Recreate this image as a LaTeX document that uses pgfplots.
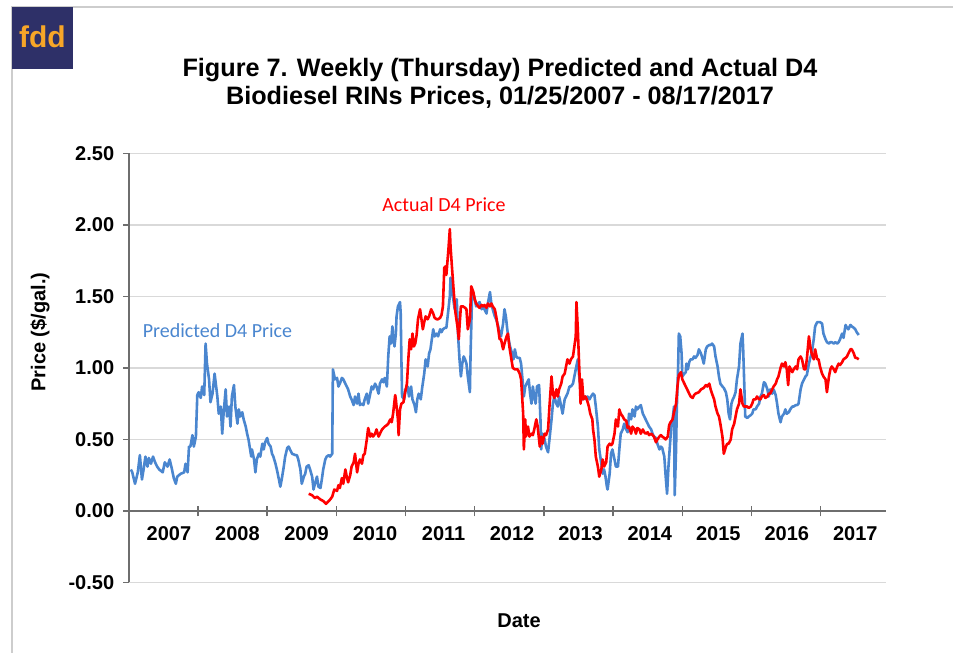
\documentclass[border=0pt]{standalone}
\usepackage{fontspec}
\setmainfont{Liberation Sans}
\newfontfamily\calibri{Carlito}
\usepackage{pgfplots}
\pgfplotsset{compat=1.18}
\definecolor{predblue}{RGB}{74,134,207}
\definecolor{actred}{RGB}{255,0,0}
\definecolor{gridgray}{RGB}{217,217,217}
\definecolor{axisgray}{RGB}{110,110,110}
\definecolor{logonavy}{RGB}{46,48,104}
\definecolor{logoorange}{RGB}{247,166,40}
\definecolor{framegray}{RGB}{205,205,205}

\pgfplotstableread{
x y
2007.03 0.29
2007.05 0.27
2007.09 0.19
2007.13 0.27
2007.16 0.39
2007.19 0.22
2007.22 0.31
2007.24 0.38
2007.27 0.31
2007.29 0.37
2007.32 0.33
2007.35 0.38
2007.38 0.34
2007.41 0.31
2007.44 0.29
2007.49 0.27
2007.52 0.34
2007.56 0.31
2007.59 0.36
2007.62 0.30
2007.65 0.23
2007.68 0.19
2007.70 0.24
2007.75 0.26
2007.80 0.27
2007.82 0.33
2007.85 0.27
2007.87 0.45
2007.89 0.45
2007.92 0.53
2007.94 0.45
2007.97 0.52
2007.99 0.81
2008.01 0.83
2008.04 0.79
2008.06 0.87
2008.09 0.81
2008.11 1.17
2008.13 1.03
2008.16 0.92
2008.18 0.76
2008.21 0.82
2008.24 0.96
2008.28 0.80
2008.30 0.68
2008.33 0.73
2008.35 0.54
2008.37 0.68
2008.40 0.85
2008.42 0.66
2008.45 0.73
2008.47 0.59
2008.49 0.80
2008.52 0.88
2008.54 0.73
2008.57 0.61
2008.59 0.71
2008.61 0.66
2008.64 0.69
2008.66 0.64
2008.69 0.59
2008.71 0.54
2008.73 0.50
2008.77 0.38
2008.78 0.43
2008.81 0.36
2008.83 0.27
2008.85 0.36
2008.88 0.40
2008.90 0.38
2008.93 0.47
2008.95 0.43
2008.97 0.48
2009.00 0.51
2009.02 0.47
2009.05 0.45
2009.07 0.40
2009.09 0.38
2009.12 0.33
2009.14 0.29
2009.17 0.22
2009.19 0.17
2009.21 0.22
2009.24 0.31
2009.26 0.38
2009.29 0.44
2009.31 0.45
2009.33 0.43
2009.36 0.40
2009.41 0.39
2009.43 0.39
2009.45 0.36
2009.48 0.29
2009.50 0.19
2009.53 0.24
2009.55 0.26
2009.57 0.31
2009.60 0.32
2009.62 0.29
2009.65 0.24
2009.67 0.15
2009.69 0.19
2009.72 0.24
2009.74 0.17
2009.77 0.16
2009.79 0.22
2009.81 0.29
2009.84 0.36
2009.86 0.38
2009.89 0.39
2009.91 0.38
2009.94 0.40
2009.95 0.99
2009.98 0.92
2010.01 0.93
2010.03 0.87
2010.05 0.89
2010.08 0.93
2010.10 0.92
2010.13 0.89
2010.15 0.87
2010.17 0.85
2010.20 0.80
2010.22 0.78
2010.25 0.74
2010.27 0.80
2010.30 0.75
2010.32 0.82
2010.34 0.74
2010.37 0.75
2010.39 0.74
2010.41 0.78
2010.44 0.82
2010.46 0.75
2010.49 0.82
2010.51 0.87
2010.53 0.85
2010.56 0.89
2010.58 0.87
2010.61 0.82
2010.63 0.89
2010.66 0.92
2010.68 0.90
2010.70 0.93
2010.73 0.87
2010.75 1.08
2010.77 1.22
2010.79 1.17
2010.81 1.29
2010.82 1.22
2010.84 1.15
2010.86 1.24
2010.87 1.36
2010.89 1.43
2010.92 1.46
2010.93 1.38
2010.94 1.06
2010.95 0.80
2010.98 0.78
2011.00 0.85
2011.03 0.87
2011.05 0.80
2011.08 0.87
2011.10 0.78
2011.13 0.74
2011.15 0.69
2011.17 0.78
2011.19 0.82
2011.22 0.78
2011.24 0.86
2011.27 0.96
2011.29 1.06
2011.32 1.01
2011.34 1.10
2011.36 1.13
2011.38 1.20
2011.40 1.27
2011.42 1.22
2011.45 1.24
2011.47 1.22
2011.50 1.27
2011.52 1.25
2011.54 1.27
2011.57 1.28
2011.59 1.28
2011.62 1.41
2011.64 1.50
2011.65 1.63
2011.67 1.55
2011.69 1.48
2011.71 1.41
2011.74 1.48
2011.76 1.22
2011.78 1.06
2011.80 0.94
2011.82 1.03
2011.84 1.08
2011.86 1.06
2011.88 1.03
2011.90 0.94
2011.93 0.83
2011.94 1.10
2011.96 1.48
2011.98 1.52
2012.00 1.48
2012.02 1.43
2012.05 1.45
2012.07 1.46
2012.10 1.41
2012.12 1.43
2012.14 1.41
2012.17 1.38
2012.19 1.45
2012.22 1.53
2012.24 1.45
2012.26 1.41
2012.29 1.36
2012.31 1.34
2012.34 1.29
2012.36 1.24
2012.38 1.22
2012.41 1.31
2012.43 1.41
2012.45 1.36
2012.47 1.27
2012.49 1.20
2012.51 1.15
2012.54 1.10
2012.56 1.06
2012.58 1.13
2012.60 1.08
2012.62 1.07
2012.65 1.07
2012.67 1.03
2012.69 0.92
2012.71 0.80
2012.73 0.87
2012.75 0.89
2012.78 0.92
2012.80 0.82
2012.82 0.75
2012.84 0.87
2012.86 0.80
2012.88 0.75
2012.90 0.87
2012.93 0.88
2012.95 0.64
2012.96 0.43
2012.98 0.54
2013.01 0.50
2013.03 0.45
2013.06 0.41
2013.08 0.50
2013.11 0.64
2013.13 0.75
2013.15 0.80
2013.18 0.75
2013.20 0.73
2013.22 0.80
2013.25 0.73
2013.27 0.68
2013.30 0.78
2013.32 0.80
2013.34 0.82
2013.37 0.87
2013.39 0.87
2013.42 0.89
2013.44 0.94
2013.46 0.99
2013.49 1.06
2013.51 0.94
2013.54 0.82
2013.56 0.78
2013.59 0.80
2013.61 0.78
2013.63 0.80
2013.66 0.78
2013.68 0.80
2013.71 0.82
2013.73 0.81
2013.75 0.73
2013.78 0.59
2013.80 0.43
2013.83 0.33
2013.85 0.26
2013.87 0.29
2013.89 0.24
2013.91 0.17
2013.92 0.15
2013.95 0.26
2013.97 0.40
2013.99 0.43
2014.02 0.36
2014.04 0.31
2014.07 0.31
2014.09 0.43
2014.11 0.54
2014.14 0.57
2014.16 0.61
2014.19 0.57
2014.21 0.55
2014.23 0.68
2014.26 0.64
2014.28 0.71
2014.31 0.66
2014.33 0.73
2014.35 0.71
2014.38 0.73
2014.40 0.74
2014.43 0.68
2014.45 0.66
2014.47 0.64
2014.50 0.61
2014.52 0.59
2014.55 0.57
2014.57 0.54
2014.59 0.52
2014.62 0.51
2014.64 0.47
2014.67 0.43
2014.69 0.45
2014.71 0.44
2014.74 0.38
2014.76 0.24
2014.78 0.12
2014.80 0.31
2014.82 0.45
2014.84 0.59
2014.86 0.64
2014.88 0.73
2014.89 0.11
2014.91 0.43
2014.92 0.71
2014.94 1.01
2014.95 1.24
2014.97 1.22
2014.99 1.10
2015.00 0.94
2015.03 0.96
2015.05 0.97
2015.06 1.03
2015.08 0.99
2015.10 1.04
2015.12 1.06
2015.15 1.06
2015.17 1.08
2015.19 1.07
2015.22 1.09
2015.24 1.13
2015.27 1.10
2015.29 1.07
2015.31 1.03
2015.34 1.13
2015.36 1.15
2015.39 1.16
2015.41 1.16
2015.43 1.17
2015.46 1.15
2015.48 1.08
2015.51 1.01
2015.53 0.94
2015.55 0.89
2015.58 0.87
2015.60 0.86
2015.63 0.83
2015.65 0.78
2015.67 0.68
2015.69 0.64
2015.71 0.75
2015.73 0.78
2015.75 0.80
2015.77 0.83
2015.79 0.92
2015.82 1.01
2015.84 1.17
2015.87 1.24
2015.88 1.13
2015.90 0.82
2015.91 0.66
2015.94 0.65
2015.96 0.66
2015.99 0.67
2016.01 0.68
2016.03 0.71
2016.06 0.71
2016.08 0.73
2016.11 0.75
2016.13 0.80
2016.15 0.82
2016.18 0.90
2016.20 0.89
2016.23 0.85
2016.25 0.80
2016.27 0.85
2016.30 0.82
2016.32 0.85
2016.35 0.81
2016.37 0.75
2016.39 0.68
2016.42 0.62
2016.44 0.66
2016.47 0.68
2016.49 0.71
2016.51 0.68
2016.54 0.69
2016.56 0.71
2016.59 0.73
2016.61 0.73
2016.64 0.74
2016.66 0.74
2016.68 0.75
2016.71 0.85
2016.73 0.89
2016.76 0.92
2016.78 0.94
2016.80 0.95
2016.83 1.03
2016.85 1.07
2016.87 1.10
2016.90 1.20
2016.92 1.29
2016.95 1.32
2016.97 1.32
2016.99 1.32
2017.02 1.31
2017.04 1.24
2017.07 1.20
2017.09 1.18
2017.12 1.17
2017.14 1.18
2017.16 1.18
2017.19 1.17
2017.21 1.18
2017.24 1.17
2017.26 1.18
2017.28 1.20
2017.31 1.24
2017.33 1.21
2017.36 1.30
2017.38 1.28
2017.40 1.27
2017.43 1.30
2017.45 1.29
2017.48 1.28
2017.50 1.27
2017.52 1.25
2017.55 1.23
}\predicted

\pgfplotstableread{
x y
2009.60 0.12
2009.65 0.11
2009.69 0.09
2009.72 0.10
2009.77 0.08
2009.81 0.07
2009.85 0.05
2009.89 0.07
2009.91 0.08
2009.94 0.10
2009.97 0.15
2010.01 0.14
2010.03 0.18
2010.05 0.16
2010.08 0.23
2010.10 0.19
2010.13 0.29
2010.15 0.24
2010.17 0.20
2010.20 0.25
2010.22 0.31
2010.25 0.34
2010.27 0.40
2010.30 0.27
2010.32 0.33
2010.34 0.36
2010.37 0.33
2010.39 0.39
2010.41 0.40
2010.44 0.50
2010.46 0.58
2010.49 0.52
2010.51 0.54
2010.53 0.52
2010.56 0.54
2010.58 0.57
2010.61 0.52
2010.63 0.54
2010.66 0.57
2010.68 0.58
2010.70 0.59
2010.73 0.60
2010.75 0.61
2010.78 0.64
2010.80 0.62
2010.82 0.68
2010.85 0.81
2010.86 0.78
2010.87 0.73
2010.89 0.64
2010.90 0.53
2010.92 0.71
2010.94 0.75
2010.97 0.76
2010.99 0.82
2011.02 0.89
2011.04 1.06
2011.06 1.20
2011.08 1.13
2011.10 1.24
2011.12 1.15
2011.14 1.17
2011.16 1.23
2011.18 1.34
2011.21 1.41
2011.23 1.34
2011.25 1.27
2011.27 1.32
2011.29 1.36
2011.32 1.34
2011.34 1.36
2011.37 1.41
2011.40 1.38
2011.42 1.35
2011.45 1.34
2011.47 1.34
2011.50 1.35
2011.52 1.37
2011.54 1.43
2011.56 1.70
2011.58 1.71
2011.59 1.65
2011.62 1.83
2011.64 1.97
2011.65 1.85
2011.67 1.71
2011.70 1.51
2011.72 1.39
2011.75 1.29
2011.77 1.20
2011.78 1.29
2011.80 1.43
2011.83 1.43
2011.86 1.42
2011.88 1.41
2011.90 1.27
2011.93 1.34
2011.95 1.57
2011.98 1.53
2012.00 1.48
2012.02 1.45
2012.05 1.43
2012.07 1.42
2012.10 1.44
2012.12 1.43
2012.14 1.44
2012.17 1.42
2012.19 1.45
2012.22 1.43
2012.24 1.45
2012.26 1.43
2012.29 1.41
2012.31 1.36
2012.34 1.27
2012.36 1.20
2012.38 1.20
2012.41 1.13
2012.43 1.17
2012.46 1.22
2012.48 1.24
2012.50 1.15
2012.53 1.06
2012.55 1.00
2012.58 0.99
2012.62 0.99
2012.65 0.96
2012.67 0.92
2012.70 0.68
2012.71 0.43
2012.73 0.64
2012.74 0.52
2012.77 0.59
2012.79 0.52
2012.82 0.54
2012.84 0.53
2012.86 0.57
2012.89 0.64
2012.91 0.59
2012.94 0.45
2012.96 0.52
2012.98 0.47
2013.01 0.54
2013.03 0.53
2013.06 0.57
2013.08 0.73
2013.11 0.94
2013.13 0.82
2013.15 0.79
2013.18 0.85
2013.20 0.80
2013.22 0.85
2013.25 0.89
2013.27 0.94
2013.30 0.96
2013.32 1.01
2013.34 1.06
2013.37 1.03
2013.39 1.06
2013.42 1.08
2013.44 1.15
2013.46 1.22
2013.47 1.46
2013.49 1.27
2013.51 1.01
2013.53 0.75
2013.55 0.92
2013.57 0.78
2013.60 0.80
2013.62 0.78
2013.65 0.73
2013.67 0.68
2013.70 0.64
2013.71 0.57
2013.73 0.50
2013.75 0.38
2013.78 0.31
2013.80 0.24
2013.83 0.29
2013.85 0.36
2013.87 0.31
2013.90 0.34
2013.92 0.45
2013.95 0.47
2013.97 0.46
2013.99 0.47
2014.02 0.54
2014.04 0.64
2014.07 0.59
2014.09 0.71
2014.11 0.68
2014.14 0.66
2014.16 0.64
2014.19 0.63
2014.21 0.58
2014.23 0.59
2014.26 0.54
2014.28 0.59
2014.31 0.57
2014.33 0.54
2014.35 0.58
2014.38 0.57
2014.40 0.54
2014.43 0.57
2014.45 0.55
2014.47 0.54
2014.50 0.55
2014.52 0.53
2014.55 0.54
2014.57 0.53
2014.59 0.52
2014.62 0.48
2014.64 0.50
2014.67 0.52
2014.69 0.53
2014.71 0.52
2014.74 0.51
2014.76 0.50
2014.79 0.52
2014.81 0.60
2014.83 0.62
2014.86 0.64
2014.88 0.69
2014.91 0.75
2014.93 0.87
2014.95 0.95
2014.98 0.97
2015.00 0.92
2015.03 0.89
2015.05 0.87
2015.07 0.85
2015.10 0.82
2015.12 0.80
2015.15 0.79
2015.17 0.81
2015.19 0.82
2015.24 0.83
2015.27 0.85
2015.31 0.86
2015.34 0.88
2015.36 0.87
2015.39 0.89
2015.41 0.85
2015.43 0.82
2015.46 0.78
2015.48 0.73
2015.51 0.68
2015.53 0.66
2015.55 0.61
2015.58 0.52
2015.60 0.40
2015.63 0.45
2015.65 0.47
2015.67 0.47
2015.70 0.50
2015.72 0.57
2015.75 0.61
2015.77 0.66
2015.79 0.71
2015.82 0.75
2015.84 0.85
2015.87 0.75
2015.89 0.73
2015.91 0.73
2015.94 0.73
2015.96 0.72
2015.99 0.73
2016.01 0.75
2016.03 0.78
2016.06 0.78
2016.08 0.80
2016.11 0.78
2016.13 0.78
2016.15 0.80
2016.18 0.81
2016.20 0.79
2016.23 0.80
2016.25 0.82
2016.27 0.82
2016.30 0.85
2016.32 0.87
2016.35 0.89
2016.37 0.92
2016.39 0.94
2016.42 1.00
2016.44 1.03
2016.47 1.01
2016.49 1.04
2016.51 0.99
2016.53 0.88
2016.55 1.01
2016.57 0.99
2016.59 0.97
2016.61 0.99
2016.64 1.01
2016.66 0.99
2016.68 1.06
2016.71 1.08
2016.73 1.06
2016.76 0.99
2016.78 0.99
2016.80 1.06
2016.83 1.22
2016.85 1.15
2016.87 1.10
2016.90 1.06
2016.92 1.13
2016.95 1.06
2016.97 1.06
2016.99 1.01
2017.02 0.96
2017.04 0.94
2017.07 0.92
2017.09 0.83
2017.12 0.94
2017.14 0.99
2017.16 1.01
2017.19 0.99
2017.21 0.97
2017.24 1.01
2017.26 1.03
2017.28 1.02
2017.31 1.04
2017.33 1.06
2017.36 1.07
2017.38 1.08
2017.40 1.10
2017.43 1.13
2017.45 1.13
2017.48 1.10
2017.50 1.07
2017.52 1.07
2017.55 1.06
}\actual

\begin{document}
\begin{tikzpicture}
\path[use as bounding box] (0,0) rectangle (476.5pt,326.5pt);
\draw[framegray, line width=0.6pt] (6pt,0pt) -- (6pt,323pt) -- (476.5pt,323pt);
\fill[logonavy] (6pt,292pt) rectangle (36.5pt,323pt);
\node[text=logoorange, font=\bfseries\fontsize{15}{15}\selectfont, inner sep=0pt] at (21.25pt,308pt) {fdd};
\node[align=center, font=\bfseries\fontsize{12.6}{14}\selectfont, inner sep=0pt] at (250pt,285pt)
  {Figure 7. Weekly (Thursday) Predicted and Actual D4\\Biodiesel RINs Prices, 01/25/2007 - 08/17/2017};
\begin{axis}[
  at={(64.4pt,35.25pt)}, anchor=south west,
  scale only axis, width=378.45pt, height=214.6pt,
  xmin=2007, xmax=2017.94, ymin=-0.5, ymax=2.5,
  axis x line*=middle, axis y line*=left,
  hide obscured x ticks=false, hide obscured y ticks=false,
  axis line style={draw=axisgray, line width=0.75pt},
  ytick={-0.5,0,0.5,1,1.5,2,2.5},
  yticklabels={-0.50,0.00,0.50,1.00,1.50,2.00,2.50},
  xtick={2007.58,2008.57,2009.57,2010.56,2011.55,2012.54,2013.53,2014.53,2015.52,2016.51,2017.50},
  xticklabels={2007,2008,2009,2010,2011,2012,2013,2014,2015,2016,2017},
  minor xtick={2008,2009,2010,2011,2012,2013,2014,2015,2016,2017},
  major x tick style={draw=none},
  minor tick length=5.3pt, major tick length=2.8pt,
  xtick align=center, ytick align=outside,
  tick style={draw=axisgray, line width=0.75pt},
  ymajorgrids, major grid style={draw=gridgray, line width=0.75pt},
  ticklabel style={font=\bfseries\fontsize{10}{12}\selectfont, text=black},
  xticklabel style={yshift=-3pt},
  yticklabel style={xshift=-1pt},
  clip=false,
]
\addplot[predblue, line width=1.3pt, line join=round] table[x=x,y=y] {\predicted};
\addplot[actred, line width=1.3pt, line join=round] table[x=x,y=y] {\actual};
\end{axis}
\node[rotate=90, font=\bfseries\fontsize{10}{12}\selectfont] at (20pt,160.5pt) {Price (\$/gal.)};
\node[font=\bfseries\fontsize{10}{12}\selectfont] at (259.5pt,16pt) {Date};
\node[text=predblue, font=\calibri\fontsize{10}{12}\selectfont, inner sep=0pt] at (108.75pt,161pt) {Predicted D4 Price};
\node[text=actred, font=\calibri\fontsize{10}{12}\selectfont, inner sep=0pt] at (222pt,224pt) {Actual D4 Price};
\end{tikzpicture}
\end{document}
